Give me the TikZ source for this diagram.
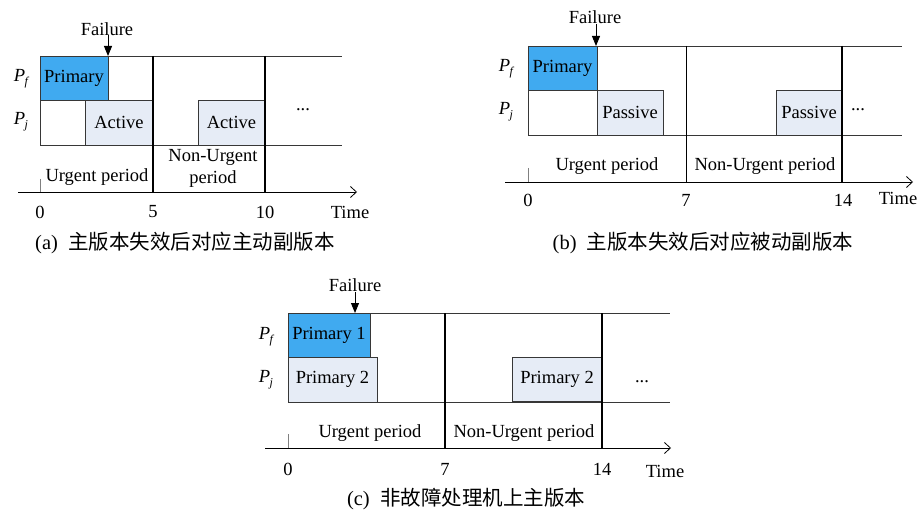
\documentclass[tikz,border=0pt]{standalone}
\usepackage{fontspec}
\setmainfont{Liberation Serif}
\newfontfamily\cjk{Noto Sans CJK SC}
\usetikzlibrary{arrows.meta}
\definecolor{primfill}{RGB}{64,170,240}
\definecolor{backfill}{RGB}{230,236,246}
\definecolor{edgec}{RGB}{55,55,55}
% italic processor label with a small italic subscript
\newcommand{\proc}[1]{\textit{P}\kern-0.5pt\raisebox{-0.45ex}{\fontsize{12}{12}\selectfont\itshape #1}}
\begin{document}
\begin{tikzpicture}[x=1pt,y=-1pt,
  font=\fontsize{18.5}{22}\selectfont,
  blk/.style={draw=edgec, line width=0.9pt, inner sep=0pt, outer sep=0pt,
              anchor=north west, minimum height=44.5pt},
  prim/.style={blk, fill=primfill},
  back/.style={blk, fill=backfill},
  rowline/.style={draw=edgec, line width=0.9pt},
  periodline/.style={draw=black, line width=1.8pt},
  thinperiod/.style={draw=black, line width=0.9pt},
  timeaxis/.style={draw=black, line width=0.8pt, -{Straight Barb[length=6pt,width=11pt]}},
  zerotick/.style={draw=gray, line width=0.8pt},
  failarrow/.style={draw=black, line width=0.9pt, -{Triangle[length=10pt,width=8pt]}},
  captext/.style={font=\fontsize{20.5}{24}\selectfont},
  lbl/.style={inner sep=0pt}]

\fill[white] (0,0) rectangle (917,510);
\useasboundingbox (0,0) rectangle (917,510);

% ---------------- (a) ----------------
\draw[rowline] (40,56) -- (342,56);
\draw[rowline] (40,145) -- (342,145);
\draw[rowline] (40,56) -- (40,145);
\node[prim, minimum width=68pt] (aP) at (40,56) {Primary};
\node[back, minimum width=68pt] (aA1) at (85,100.5) {Active};
\node[back, minimum width=67pt] (aA2) at (198,100.5) {Active};
\draw[periodline] (153,56) -- (153,192);
\draw[periodline] (265,56) -- (265,192);
\draw[zerotick] (40,179) -- (40,192);
\draw[timeaxis] (18,192) -- (357,192);
\node[lbl] (a0) at (40,212) {0};
\node[lbl] (a5) at (153,212) {5};
\node[lbl] (a10) at (265,212) {10};
\node[lbl] (aT) at (350,212) {Time};
\node[lbl] (aU) at (97,177) {Urgent period};
\node[lbl, align=center] (aN) at (213,168) {Non-Urgent\\period};
\node[lbl] (aD) at (303,110) {...};
\node[lbl] (aPf) at (21,79) {\proc{f}};
\node[lbl] (aPj) at (21,122) {\proc{j}};
\node[lbl] (aF) at (107,29) {Failure};
\coordinate (aFt) at (108,56);
\draw[failarrow] (108,35) -- (aFt);
\node[captext] (aC) at (185,243) {(a)\hspace{0.5em}{\cjk 主版本失效后对应主动副版本}};

% ---------------- (b) ----------------
\draw[rowline] (528,46) -- (902,46);
\draw[rowline] (528,135) -- (902,135);
\draw[rowline] (528,46) -- (528,135);
\node[prim, minimum width=69pt] (bP) at (528,46) {Primary};
\node[back, minimum width=66pt] (bS1) at (597,90.5) {Passive};
\node[back, minimum width=66pt] (bS2) at (776,90.5) {Passive};
\draw[thinperiod] (686,46) -- (686,182);
\draw[periodline] (842,46) -- (842,182);
\draw[zerotick] (528,168) -- (528,182);
\draw[timeaxis] (505,182) -- (913,182);
\node[lbl] (b0) at (528,200) {0};
\node[lbl] (b7) at (686,200) {7};
\node[lbl] (b14) at (843,200) {14};
\node[lbl] (bT) at (898,198) {Time};
\node[lbl] (bU) at (607,166) {Urgent period};
\node[lbl] (bN) at (765,166) {Non-Urgent period};
\node[lbl] (bD) at (858,110) {...};
\node[lbl] (bPf) at (506,69) {\proc{f}};
\node[lbl] (bPj) at (506,112) {\proc{j}};
\node[lbl] (bF) at (595,17) {Failure};
\coordinate (bFt) at (596,46);
\draw[failarrow] (596,24) -- (bFt);
\node[captext] (bC) at (703,243) {(b)\hspace{0.5em}{\cjk 主版本失效后对应被动副版本}};

% ---------------- (c) ----------------
\draw[rowline] (288,313) -- (670,313);
\draw[rowline] (288,402) -- (670,402);
\draw[rowline] (288,313) -- (288,402);
\node[prim, minimum width=82pt] (cP1) at (288,313) {Primary 1};
\node[back, minimum width=89pt] (cP2a) at (288,357.5) {Primary 2};
\node[back, minimum width=90pt] (cP2b) at (512,357) {Primary 2};
\draw[periodline] (445,313) -- (445,448);
\draw[periodline] (602,313) -- (602,448);
\draw[zerotick] (288,434) -- (288,448);
\draw[timeaxis] (265,448) -- (671,448);
\node[lbl] (c0) at (288,469) {0};
\node[lbl] (c7) at (445,469) {7};
\node[lbl] (c14) at (602,469) {14};
\node[lbl] (cT) at (665,471) {Time};
\node[lbl] (cU) at (370,433) {Urgent period};
\node[lbl] (cN) at (524,433) {Non-Urgent period};
\node[lbl] (cD) at (642,382) {...};
\node[lbl] (cPf) at (266,337) {\proc{f}};
\node[lbl] (cPj) at (266,380) {\proc{j}};
\node[lbl] (cF) at (355,285) {Failure};
\coordinate (cFt) at (355,313);
\draw[failarrow] (355,292) -- (cFt);
\node[captext] (cC) at (466,499) {(c)\hspace{0.5em}{\cjk 非故障处理机上主版本}};
\end{tikzpicture}
\end{document}
